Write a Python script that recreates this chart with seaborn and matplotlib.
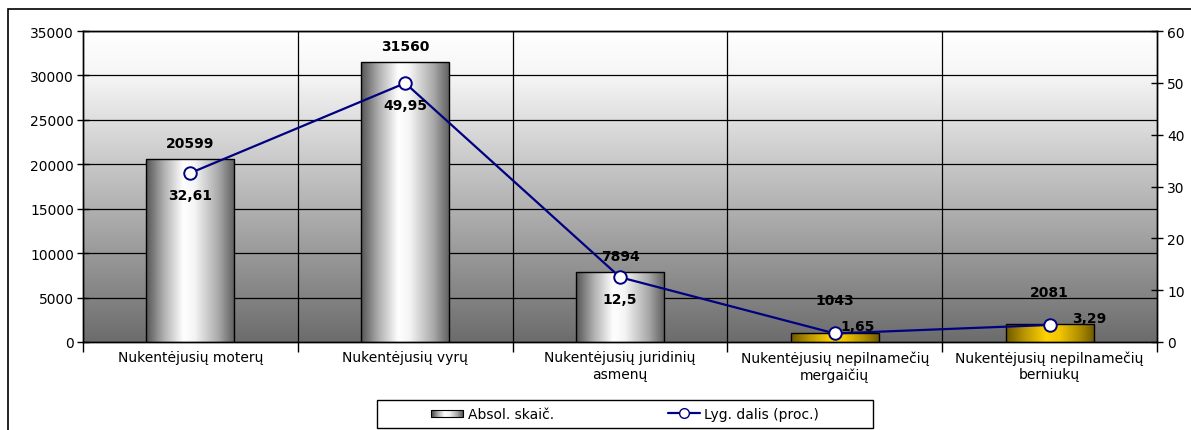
import numpy as np
import matplotlib
matplotlib.use("Agg")
import matplotlib.pyplot as plt
import seaborn as sns
from matplotlib.colors import LinearSegmentedColormap
from matplotlib.patches import Rectangle
from matplotlib.lines import Line2D
from matplotlib.legend_handler import HandlerBase

# ---------------- data ----------------
categories = ["Nukentėjusių moterų", "Nukentėjusių vyrų", "Nukentėjusių juridinių\nasmenų",
              "Nukentėjusių nepilnamečių\nmergaičių", "Nukentėjusių nepilnamečių\nberniukų"]
abs_values = [20599, 31560, 7894, 1043, 2081]
pct_values = [32.61, 49.95, 12.5, 1.65, 3.29]
pct_labels = ["32,61", "49,95", "12,5", "1,65", "3,29"]
left_ticks = [0, 5000, 10000, 15000, 20000, 25000, 30000, 35000]
right_ticks = [0, 10, 20, 30, 40, 50, 60]
bar_series_name = "Absol. skaič."
line_series_name = "Lyg. dalis (proc.)"

# ---------------- style ----------------
sns.set_theme(style="white")
plt.rcParams["font.family"] = ["DejaVu Sans"]
plt.rcParams["font.size"] = 10
plt.rcParams["text.color"] = "black"
plt.rcParams["axes.labelcolor"] = "black"
plt.rcParams["xtick.color"] = "black"
plt.rcParams["ytick.color"] = "black"
plt.rcParams["xtick.labelcolor"] = "black"
plt.rcParams["ytick.labelcolor"] = "black"

gray_cmap = LinearSegmentedColormap.from_list(
    "cyl", [(0, "#555555"), (0.2, "#b0b0b0"), (0.42, "#ffffff"), (0.55, "#f4f4f4"),
            (0.82, "#a8a8a8"), (1, "#5e5e5e")])
gold_cmap = LinearSegmentedColormap.from_list(
    "gold", [(0, "#6e5a00"), (0.2, "#b89400"), (0.45, "#ffd200"), (0.6, "#f2c600"),
             (0.85, "#a88800"), (1, "#6e5800")])
bar_cmaps = [gray_cmap, gray_cmap, gray_cmap, gold_cmap, gold_cmap]
bg_cmap = LinearSegmentedColormap.from_list(
    "bg", [(0, "#6c6c6c"), (0.5, "#bcbcbc"), (0.86, "#f6f6f6"), (1, "#ffffff")])

fig = plt.figure(figsize=(11.91, 4.31), dpi=100)
ax = fig.add_axes([83 / 1191, 1 - 343 / 431, (1157 - 83) / 1191, (343 - 32) / 431])

# background vertical gradient
grad = np.linspace(0, 1, 256).reshape(-1, 1)
ax.imshow(grad, cmap=bg_cmap, aspect="auto", extent=[0, 1, 0, 1], origin="lower",
          transform=ax.transAxes, zorder=0)

x_pos = np.arange(len(categories))
sns.barplot(x=x_pos, y=abs_values, ax=ax, width=0.41, color="#cccccc",
            edgecolor="black", linewidth=1.0, zorder=3, native_scale=True)

# cylinder gradient for each bar
hgrad = np.linspace(0, 1, 256).reshape(1, -1)
for patch, cmap in zip(ax.patches, bar_cmaps):
    x0, y0 = patch.get_x(), patch.get_y()
    w, h = patch.get_width(), patch.get_height()
    im = ax.imshow(hgrad, cmap=cmap, aspect="auto", extent=[x0, x0 + w, y0, y0 + h],
                   zorder=3.5, interpolation="bicubic")
    im.set_clip_path(patch)
    patch.set_facecolor("none")
    patch.set_zorder(4)

ax.set_xlim(-0.5, len(categories) - 0.5)
ax.set_ylim(0, 35000)
ax.set_yticks(left_ticks)
ax.set_yticklabels([str(t) for t in left_ticks])
for t in left_ticks[1:]:
    ax.axhline(t, color="black", lw=0.9, zorder=1)
for b in np.arange(len(categories) - 1) + 0.5:
    ax.axvline(b, color="black", lw=0.9, zorder=1)

ax.set_xticks(np.arange(-0.5, len(categories), 1.0))
ax.set_xticklabels([])
ax.set_xticks(x_pos, minor=True)
ax.set_xticklabels(categories, minor=True, fontsize=10)
ax.tick_params(axis="x", which="major", direction="out", length=7, width=1, color="black", bottom=True)
ax.tick_params(axis="x", which="minor", length=0, pad=6, labelsize=10, labelcolor="black")
ax.tick_params(axis="y", direction="inout", length=9, width=1, color="black", left=True,
               labelsize=10, pad=2, labelcolor="black")
for s in ["left", "bottom", "top", "right"]:
    ax.spines[s].set_color("black")
    ax.spines[s].set_linewidth(1)
ax.set_xlabel("")
ax.set_ylabel("")

# bar value labels
bar_offsets = [6.5, 6.5, 6.5, 18.5, 18]
for xi, v, off in zip(x_pos, abs_values, bar_offsets):
    ax.annotate(str(v), (xi, v), xytext=(0, off), textcoords="offset points",
                ha="center", va="bottom", fontsize=10, fontweight="bold", color="black", zorder=5)

# line on secondary axis
ax2 = ax.twinx()
sns.lineplot(x=x_pos, y=pct_values, ax=ax2, color="#000080", lw=1.6, marker="o",
             markersize=9, markerfacecolor="white", markeredgecolor="#000080",
             markeredgewidth=1.4, zorder=6, legend=False)
ax2.set_ylim(0, 60)
ax2.set_yticks(right_ticks)
ax2.set_yticklabels([str(t) for t in right_ticks])
ax2.tick_params(axis="y", direction="inout", length=9, width=1, color="black", right=True,
                labelsize=10, pad=3, labelcolor="black")
ax2.set_ylabel("")
for s in ["left", "bottom", "top", "right"]:
    ax2.spines[s].set_color("black")
    ax2.spines[s].set_linewidth(1)

pct_offsets = [(0, -11, "center", "top"), (0, -11, "center", "top"), (0, -11, "center", "top"),
               (4, 0, "left", "bottom"), (16, 0, "left", "bottom")]
for xi, v, lab, (dx, dy, ha, va) in zip(x_pos, pct_values, pct_labels, pct_offsets):
    ax2.annotate(lab, (xi, v), xytext=(dx, dy), textcoords="offset points",
                 ha=ha, va=va, fontsize=10, fontweight="bold", color="black", zorder=7)


# legend with gradient swatch
class GradHandler(HandlerBase):
    def create_artists(self, legend, orig_handle, xdescent, ydescent, width, height, fontsize, trans):
        n = 30
        arts = []
        y = -ydescent + height * 0.15
        hh = height * 0.7
        for i in range(n):
            c = gray_cmap(i / (n - 1))
            r = Rectangle((-xdescent + width * i / n, y), width / n + 0.3, hh,
                          facecolor=c, edgecolor="none", transform=trans)
            arts.append(r)
        arts.append(Rectangle((-xdescent, y), width, hh, facecolor="none",
                              edgecolor="black", lw=0.8, transform=trans))
        return arts


# legend frame (wider on the left, as in the reference)
fig.patches.append(Rectangle((377 / 1191, 1 - 429 / 431), (873 - 377) / 1191, 28 / 431,
                             transform=fig.transFigure, facecolor="white",
                             edgecolor="black", lw=1, zorder=1))

bar_handle = Rectangle((0, 0), 1, 1)
line_handle = Line2D([], [], color="#000080", lw=1.6, marker="o", markersize=7,
                     markerfacecolor="white", markeredgecolor="#000080")
leg = fig.legend([bar_handle, line_handle], [bar_series_name, line_series_name],
                 handler_map={Rectangle: GradHandler()}, loc="center",
                 bbox_to_anchor=(625 / 1191, 1 - 415 / 431), ncol=2, frameon=False,
                 fontsize=10, columnspacing=8.2, labelcolor="black",
                 handlelength=2.3, handletextpad=0.3, borderpad=0.35, borderaxespad=0)

# outer chart border
fig.patches.append(Rectangle((8 / 1191, -0.1), 1.2, 1 - 10 / 431 + 0.1, transform=fig.transFigure,
                             facecolor="none", edgecolor="black", lw=1.2, zorder=0))

fig.savefig("out.png", dpi=100, facecolor="white")
